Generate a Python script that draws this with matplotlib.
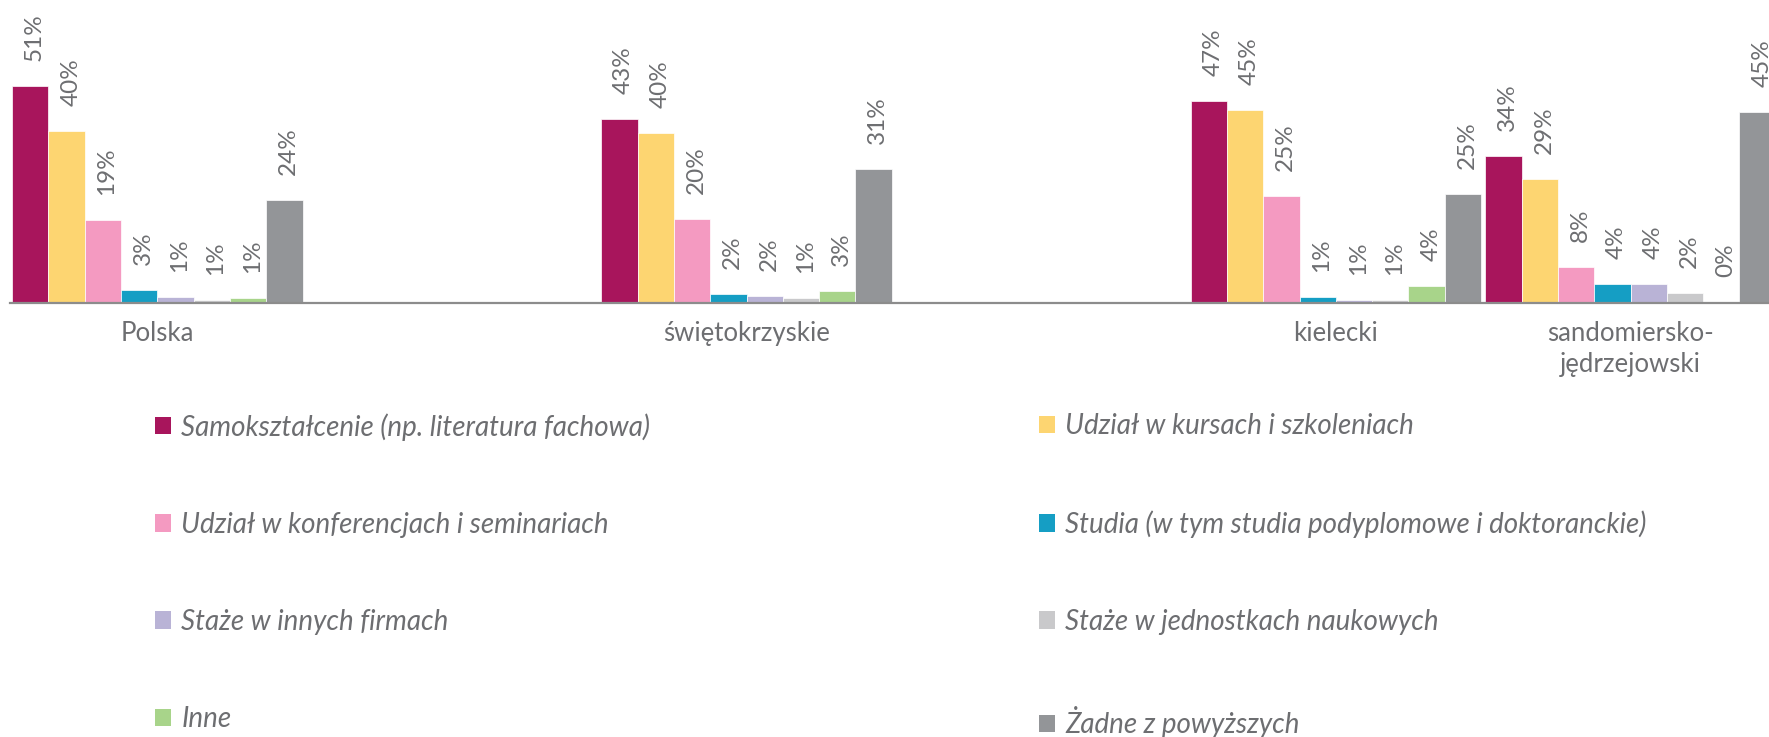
import matplotlib.pyplot as plt
from matplotlib.patches import Patch

# Categories (blank slots between groups as in the source layout)
regions = ["Polska", "świętokrzyskie", "kielecki", "sandomiersko-\njędrzejowski"]
region_slots = [0, 2, 4, 5]

series = [
    "Samokształcenie (np. literatura fachowa)",
    "Udział w kursach i szkoleniach",
    "Udział w konferencjach i seminariach",
    "Studia (w tym studia podyplomowe i doktoranckie)",
    "Staże w innych firmach",
    "Staże w jednostkach naukowych",
    "Inne",
    "Żadne z powyższych",
]
colors = ["#a8155c", "#fdd571", "#f49ac1", "#159ec4",
          "#b9b3d6", "#c9c9cb", "#a8d48a", "#939598"]

# values per region, in series order (%)
polska = [50.8, 40.2, 19.3, 3.0, 1.4, 0.7, 1.2, 24.0]
swietokrzyskie = [43.0, 39.8, 19.7, 2.0, 1.7, 1.2, 2.7, 31.2]
kielecki = [47.1, 45.1, 24.9, 1.3, 0.8, 0.6, 3.9, 25.4]
sandomiersko = [34.3, 28.9, 8.3, 4.4, 4.4, 2.3, 0.3, 44.6]
data = [polska, swietokrzyskie, kielecki, sandomiersko]

txt_color = "#6d6e71"
plt.rcParams["font.family"] = ["Lato", "DejaVu Sans"]

fig = plt.figure(figsize=(17.69, 7.37), dpi=100)
W, H = 1769, 737
ax = fig.add_axes([10 / W, 1 - 303 / H, 1 - 10 / W, 303 / H])

bw = 0.1232
for r, slot in enumerate(region_slots):
    for i in range(len(series)):
        v = data[r][i]
        x = slot - 4 * bw + (i + 0.5) * bw
        ax.bar(x, v, width=bw, color=colors[i], edgecolor="white",
               linewidth=0.5, zorder=2)
        ax.annotate(f"{int(v + 0.5)}%", (x, v), xytext=(3, 18),
                    textcoords="offset points", rotation=90,
                    ha="center", va="bottom", fontsize=17.5,
                    color=txt_color, annotation_clip=False)

ax.set_xlim(-0.5, 5.47)
ax.set_ylim(0, 70.8)
for s in ["top", "left", "right"]:
    ax.spines[s].set_visible(False)
ax.spines["bottom"].set_color("#8c8c8c")
ax.spines["bottom"].set_linewidth(1.6)
ax.set_yticks([])
ax.set_xticks(region_slots)
ax.set_xticklabels(regions, fontsize=18.5, color=txt_color, linespacing=1.3)
ax.tick_params(axis="x", length=0, pad=13)

handles = [Patch(facecolor=c, edgecolor="none") for c in colors]
leg_kw = dict(frameon=False, borderpad=0, borderaxespad=0,
              handlelength=0.58, handleheight=0.58, handletextpad=0.37,
              labelspacing=2.56, labelcolor=txt_color,
              prop={"size": 20, "style": "italic"})
left_idx = [0, 2, 4, 6]
right_idx = [1, 3, 5, 7]
leg1 = fig.legend([handles[i] for i in left_idx], [series[i] for i in left_idx],
                  loc="upper left", bbox_to_anchor=(155 / W, 1 - 413 / H), **leg_kw)
leg2 = fig.legend([handles[i] for i in right_idx], [series[i] for i in right_idx],
                  loc="upper left", bbox_to_anchor=(1039 / W, 1 - 413 / H), **leg_kw)

fig.savefig("out.png", dpi=100, facecolor="white")
